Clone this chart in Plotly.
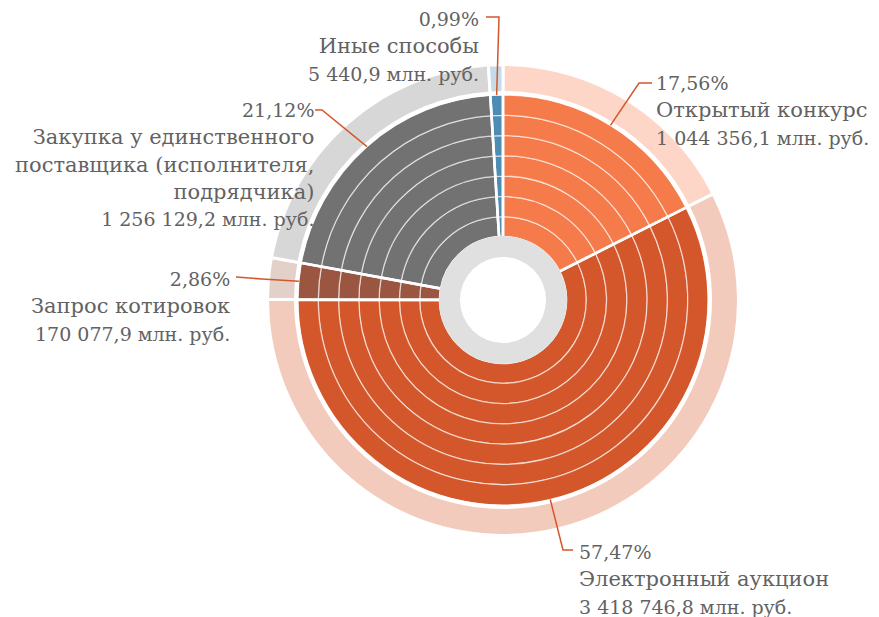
import math
import plotly.graph_objects as go

# ---- data ----
categories = ["Открытый конкурс", "Электронный аукцион", "Запрос котировок",
              "Закупка у единственного<br>поставщика (исполнителя,<br>подрядчика)",
              "Иные способы"]
shares = [17.56, 57.47, 2.86, 21.12, 0.99]
share_labels = ["17,56%", "57,47%", "2,86%", "21,12%", "0,99%"]
amount_labels = ["1 044 356,1 млн. руб.", "3 418 746,8 млн. руб.", "170 077,9 млн. руб.",
                 "1 256 129,2 млн. руб.", "5 440,9 млн. руб."]

# ---- style ----
W, H = 879, 617
OFF = 8                      # page body margin
CX, CY = 503, 300            # centre in screen px
R_MAX = 234
colors = ["#F67B4B", "#D3572B", "#9A5641", "#727272", "#4E8DB3"]
light = ["#FDD6C7", "#F3CBBC", "#E2D0C9", "#D7D7D7", "#C6DBE8"]
TXT = "#626262"
FONT = "DejaVu Serif"
FS = 21
FS_PCT = 19
FS_AMT = 19

hole_in, hole_out = 43, 63
col_out = 205
nbands = 7
band = (col_out - hole_out) / nbands

total = sum(shares)
widths = [s / total * 360 for s in shares]
starts = [sum(widths[:i]) for i in range(len(widths))]
mids = [st + w / 2 for st, w in zip(starts, widths)]

fig = go.Figure()
# outer light ring
fig.add_trace(go.Barpolar(theta=mids, width=widths, base=[207.5] * 5, r=[28] * 5,
                          marker=dict(color=light, line=dict(color="white", width=3)),
                          hoverinfo="skip", showlegend=False))
# coloured bands with thin white circles
for k in range(nbands):
    fig.add_trace(go.Barpolar(theta=mids, width=widths,
                              base=[hole_out + k * band] * 5, r=[band] * 5,
                              marker=dict(color=colors,
                                          line=dict(color="rgba(255,255,255,0.6)", width=1.3)),
                              hoverinfo="skip", showlegend=False))
# slice separators
fig.add_trace(go.Barpolar(theta=mids, width=widths, base=[hole_out] * 5,
                          r=[col_out - hole_out + 1] * 5,
                          marker=dict(color="rgba(0,0,0,0)", line=dict(color="white", width=2.6)),
                          hoverinfo="skip", showlegend=False))
# inner grey ring
fig.add_trace(go.Barpolar(theta=[90, 270], width=[180.5, 180.5], base=[hole_in] * 2,
                          r=[hole_out - hole_in + 1] * 2,
                          marker=dict(color="#E0E0E0", line=dict(width=0)),
                          hoverinfo="skip", showlegend=False))

# ---- labels & leaders (layout in screen px) ----
label_pos = [  # x, first-line centre y, anchor
    (657, 83, "left"),
    (580, 552, "left"),
    (229, 279, "right"),
    (313, 110, "right"),
    (478, 19, "right"),
]
elbows = [((639, 83), (652, 83)),
          ((563, 550), (573, 550)),
          ((262, 279), (236, 277)),
          ((322, 110), (315, 110)),
          ((499, 17), (486, 17))]

def px(x, y):
    return (x - OFF) / W, 1 - (y - OFF) / H

shapes = []
annotations = []
for i in range(5):
    a = math.radians(mids[i])
    ax = CX + col_out * math.sin(a)
    ay = CY - col_out * math.cos(a)
    pts = [(ax, ay), elbows[i][0], elbows[i][1]]
    path = "M " + " L ".join("%.4f,%.4f" % px(x, y) for x, y in pts)
    shapes.append(dict(type="path", path=path, xref="paper", yref="paper",
                       line=dict(color="#D3572B", width=1.5)))
    lx, ly, al = label_pos[i]
    lx = lx - 3 if al == "left" else lx + 3
    x, y = px(lx, ly - 13)
    text = ("<span style='font-size:%dpx'>%s</span><br>%s<br>"
            "<span style='font-size:%dpx'>%s</span>"
            % (FS_PCT, share_labels[i], categories[i], FS_AMT, amount_labels[i]))
    annotations.append(dict(x=x, y=y, xref="paper", yref="paper",
                            xanchor=al, yanchor="top", align=al, showarrow=False,
                            text=text,
                            font=dict(family=FONT, size=FS, color=TXT)))

x0, y1 = px(CX - R_MAX, CY - R_MAX)
x1, y0 = px(CX + R_MAX, CY + R_MAX)
fig.update_layout(
    width=W, height=H, margin=dict(l=0, r=0, t=0, b=0),
    paper_bgcolor="white", plot_bgcolor="white",
    polar=dict(domain=dict(x=[x0, x1], y=[y0, y1]),
               bgcolor="rgba(0,0,0,0)", bargap=0,
               radialaxis=dict(range=[0, R_MAX], visible=False, showgrid=False),
               angularaxis=dict(rotation=90, direction="clockwise", visible=False,
                                showgrid=False)),
    shapes=shapes, annotations=annotations, showlegend=False,
)
fig.write_html("out.html")
